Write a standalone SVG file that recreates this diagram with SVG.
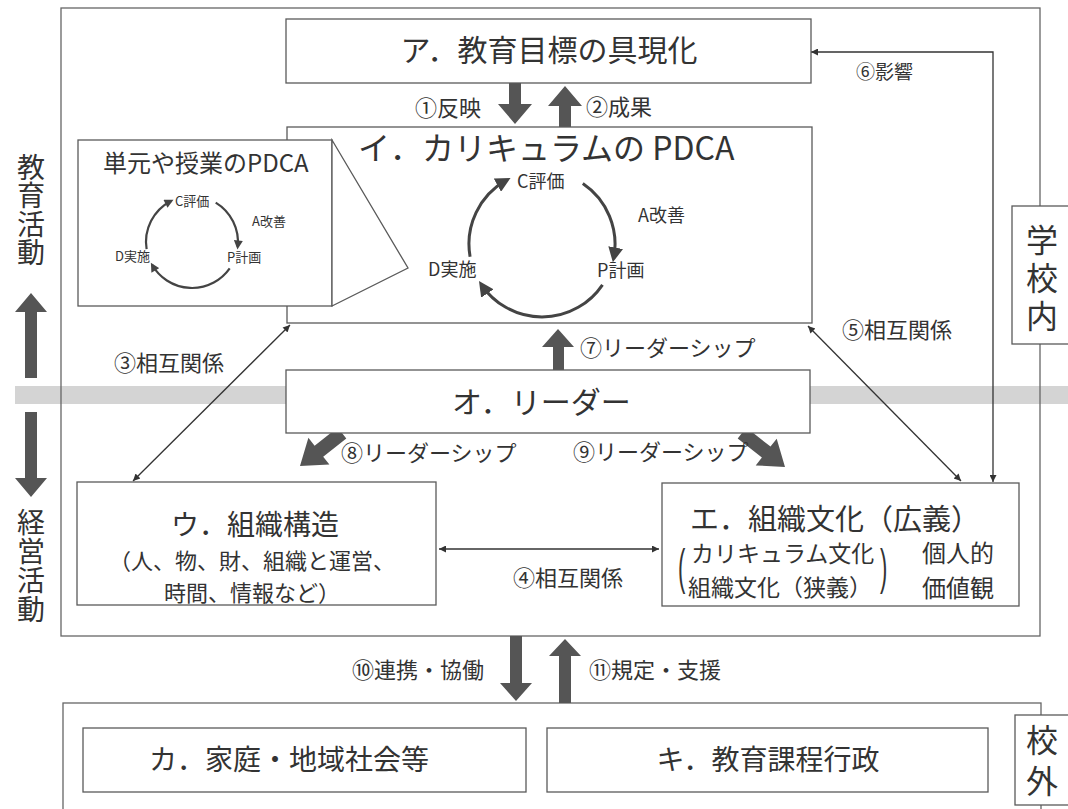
<svg xmlns="http://www.w3.org/2000/svg" width="1068" height="809" viewBox="0 0 1068 809">
<style>
text { font-family: "Noto Sans CJK JP", "Noto Sans", sans-serif; fill: #333; }
.box { fill: #fff; stroke: #5a5a5a; stroke-width: 1.3; }
.frame { fill: none; stroke: #666; stroke-width: 1.3; }
.fat { fill: #555; }
.ln { fill: none; stroke: #333; stroke-width: 1.3; marker-start: url(#ah); marker-end: url(#ah); }
.cyc { fill: none; stroke: #444; stroke-width: 3; marker-end: url(#cb); }
.cycs { fill: none; stroke: #444; stroke-width: 2.2; marker-end: url(#cs); }
.lbl { font-size: 22px; }
.t30 { font-size: 30px; }
.t28 { font-size: 28px; }
.vt { writing-mode: vertical-rl; font-size: 28px; }
.vt32 { writing-mode: vertical-rl; font-size: 32px; }
.mid { text-anchor: middle; }
</style>
<defs>
<marker id="ah" viewBox="0 0 10 10" refX="10" refY="5" markerWidth="9" markerHeight="7" markerUnits="userSpaceOnUse" orient="auto-start-reverse"><path d="M0,0 L10,5 L0,10 z" fill="#333"/></marker>
<marker id="cb" viewBox="0 0 10 10" refX="7" refY="5" markerWidth="15" markerHeight="15" markerUnits="userSpaceOnUse" orient="auto"><path d="M0,0 L10,5 L0,10 z" fill="#444"/></marker>
<marker id="cs" viewBox="0 0 10 10" refX="7" refY="5" markerWidth="10" markerHeight="9" markerUnits="userSpaceOnUse" orient="auto"><path d="M0,0 L10,5 L0,10 z" fill="#444"/></marker>
</defs>
<rect x="0" y="0" width="1068" height="809" fill="#fff"/>
<rect id="band" x="15" y="386" width="1053" height="18" fill="#d4d4d4"/>
<g id="frames">
<rect class="frame" x="61" y="8" width="979" height="628"/>
<rect class="frame" x="63" y="703" width="978" height="120"/>
</g>
<g id="side-labels">
<text class="vt" x="31" y="153" style="letter-spacing:0.5px">教育活動</text>
<text class="vt" x="31" y="508" style="letter-spacing:1px">経営活動</text>
<polygon class="fat" points="25,378 37,378 37,312 47,312 31,293 15,312 25,312"/>
<polygon class="fat" points="25,412 37,412 37,478 47,478 31,497 15,478 25,478"/>
</g>
<g id="connectors">
<polygon class="fat" points="509,83 521,83 521,104 532,104 515,124 498,104 509,104"/>
<polygon class="fat" points="559,127 571,127 571,106 582,106 565,86 548,106 559,106"/>
<polygon class="fat" points="553,370 564,370 564,347 574,347 558,329 542,347 553,347"/>
<polygon class="fat" points="346.3,438.5 323.2,456.7 329.4,464.6 300,466 308.4,437.8 314.6,445.7 337.7,427.5"/>
<polygon class="fat" points="737.7,438.5 761.9,457.6 755.7,465.4 785,467 776.7,438.8 770.5,446.6 746.3,427.5"/>
<polygon class="fat" points="510,636 522,636 522,683 532,683 516,701 500,683 510,683"/>
<polygon class="fat" points="559,703 571,703 571,656 581,656 565,639 549,656 559,656"/>
<path class="ln" d="M290,325 L133,481"/>
<path class="ln" d="M808,326 L961,481"/>
<path class="ln" d="M439,549 L659,549"/>
<path class="ln" d="M811,52 L993,52 L993,482"/>
<text class="lbl" x="481" y="116" text-anchor="end">①反映</text>
<text class="lbl" x="586" y="115">②成果</text>
<text x="856" y="79" style="font-size:19px">⑥影響</text>
<text class="lbl" x="114" y="371">③相互関係</text>
<text class="lbl" x="842" y="338">⑤相互関係</text>
<text class="lbl" x="580" y="356">⑦リーダーシップ</text>
<text class="lbl" x="341" y="461">⑧リーダーシップ</text>
<text class="lbl" x="573" y="460">⑨リーダーシップ</text>
<text class="lbl" x="513" y="586">④相互関係</text>
<text class="lbl" x="484" y="678" text-anchor="end">⑩連携・協働</text>
<text class="lbl" x="589" y="678">⑪規定・支援</text>
</g>
<g id="node-a">
<rect class="box" x="286" y="19" width="525" height="64"/>
<text class="t30 mid" x="549" y="61">ア．教育目標の具現化</text>
</g>
<g id="node-i">
<rect class="box" x="287" y="127" width="525" height="196"/>
<text x="358" y="160" style="font-size:32px">イ．カリキュラムの PDCA</text>
<path class="cyc" d="M582.8,183.5 A73,73 0 0 1 613.7,257.9"/>
<path class="cyc" d="M602.5,284.8 A73,73 0 0 1 481.5,284.8"/>
<path class="cyc" d="M470.1,256.7 A73,73 0 0 1 506.6,180.1"/>
<text x="517" y="188" style="font-size:18px">C評価</text>
<text x="638" y="222" style="font-size:18px">A改善</text>
<text x="597" y="277" style="font-size:18px">P計画</text>
<text x="428" y="276" style="font-size:18px">D実施</text>
</g>
<g id="node-inset">
<rect class="box" x="78" y="140" width="254" height="166"/>
<polygon class="box" points="332,140 408,268 332,306"/>
<text x="103" y="172" style="font-size:24px">単元や授業のPDCA</text>
<path class="cycs" d="M215.7,202.6 A46,46 0 0 1 237.7,246.8"/>
<path class="cycs" d="M229.7,268.4 A46,46 0 0 1 152.2,265"/>
<path class="cycs" d="M146.6,249.2 A46,46 0 0 1 171.1,201"/>
<text x="175" y="206" style="font-size:13px">C評価</text>
<text x="252" y="226" style="font-size:13px">A改善</text>
<text x="227" y="262" style="font-size:13px">P計画</text>
<text x="115" y="261" style="font-size:13px">D実施</text>
</g>
<g id="node-o">
<rect class="box" x="286" y="370" width="524" height="63"/>
<text class="t30" x="452" y="413">オ．リーダー</text>
</g>
<g id="node-u">
<rect class="box" x="77" y="482" width="359" height="123"/>
<text class="t28 mid" x="255" y="535">ウ．組織構造</text>
<text class="mid" x="252" y="569" style="font-size:22px">（人、物、財、組織と運営、</text>
<text class="mid" x="252" y="601" style="font-size:22px">時間、情報など）</text>
</g>
<g id="node-e">
<rect class="box" x="662" y="483" width="357" height="123"/>
<text class="mid" x="835" y="530" style="font-size:29px">エ．組織文化（広義）</text>
<text x="678" y="254" transform="scale(1,2.3)" style="font-family:'Liberation Sans',sans-serif;font-size:22px">(</text>
<text x="880" y="254" transform="scale(1,2.3)" style="font-family:'Liberation Sans',sans-serif;font-size:22px">)</text>
<text x="691" y="562" style="font-size:23px">カリキュラム文化</text>
<text x="688" y="596" style="font-size:23px">組織文化（狭義）</text>
<text x="922" y="562" style="font-size:24px">個人的</text>
<text x="922" y="597" style="font-size:24px">価値観</text>
</g>
<g id="node-gakkounai">
<rect class="box" x="1012" y="206" width="70" height="138"/>
<text class="vt32" x="1042" y="224" style="letter-spacing:6px">学校内</text>
</g>
<g id="node-ka">
<rect class="box" x="83" y="728" width="443" height="64"/>
<text class="t28 mid" x="289" y="770">カ．家庭・地域社会等</text>
</g>
<g id="node-ki">
<rect class="box" x="547" y="728" width="441" height="64"/>
<text class="t28 mid" x="768" y="770">キ．教育課程行政</text>
</g>
<g id="node-kougai">
<rect class="box" x="1015" y="715" width="70" height="90"/>
<text class="vt32" x="1042" y="724" style="letter-spacing:9px">校外</text>
</g>
</svg>
